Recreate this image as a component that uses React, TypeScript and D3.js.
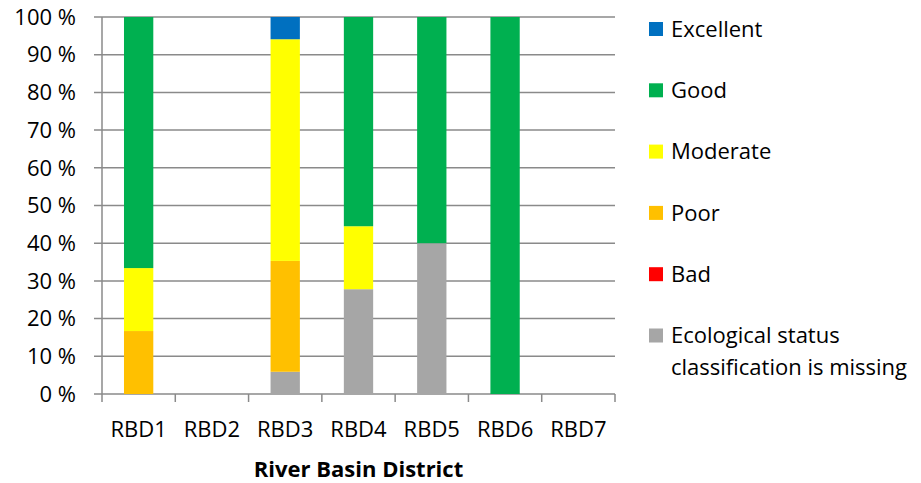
import { useEffect, useRef } from 'react';
import * as d3 from 'd3';

const width = 921;
const height = 483;

// RBD categories and the share (%) of water bodies in each ecological status class
const categories = ['RBD1', 'RBD2', 'RBD3', 'RBD4', 'RBD5', 'RBD6', 'RBD7'];
const missing = [0, 0, 5.9, 27.8, 40, 0, 0];
const bad = [0, 0, 0, 0, 0, 0, 0];
const poor = [16.7, 0, 29.4, 0, 0, 0, 0];
const moderate = [16.7, 0, 58.8, 16.7, 0, 0, 0];
const good = [66.6, 0, 0, 55.5, 60, 100, 0];
const excellent = [0, 0, 5.9, 0, 0, 0, 0];

const yTicks = [0, 10, 20, 30, 40, 50, 60, 70, 80, 90, 100];

// stacking order bottom -> top
const seriesNames = ['Missing', 'Bad', 'Poor', 'Moderate', 'Good', 'Excellent'];
const seriesValues = [missing, bad, poor, moderate, good, excellent];
const colours = ['#A6A6A6', '#FF0000', '#FFC000', '#FFFF00', '#00B050', '#0070C0'];

// legend runs top -> bottom
const legendLabels = [
  ['Excellent'],
  ['Good'],
  ['Moderate'],
  ['Poor'],
  ['Bad'],
  ['Ecological status', 'classification is missing'],
];
const legendColours = ['#0070C0', '#00B050', '#FFFF00', '#FFC000', '#FF0000', '#A6A6A6'];

const FONT = '"Open Sans", Lato, sans-serif';
const FS = 22;

const App = () => {
  const ref = useRef<SVGSVGElement>(null);

  useEffect(() => {
    const svg = d3.select(ref.current);
    svg.selectAll('*').remove();

    const left = 102;
    const right = 615;
    const top = 17;
    const bottom = 394;

    const x = d3.scaleBand().domain(categories).range([left, right]).paddingInner(0.6).paddingOuter(0.3);
    const xCell = d3.scaleBand().domain(categories).range([left, right]).padding(0);
    const y = d3.scaleLinear().domain([0, 100]).range([bottom, top]);

    const rows = categories.map((c, i) => {
      const row: any = { cat: c };
      seriesNames.forEach((s, j) => (row[s] = seriesValues[j][i]));
      return row;
    });
    const stacked = d3.stack().keys(seriesNames)(rows);

    const grid = svg.append('g');
    // horizontal gridlines, with tick stubs to the left of the axis
    grid
      .selectAll('line.grid')
      .data(yTicks)
      .join('line')
      .attr('x1', left - 8)
      .attr('x2', right)
      .attr('y1', (d) => y(d))
      .attr('y2', (d) => y(d))
      .attr('stroke', '#8a8a8a')
      .attr('stroke-width', 1.5);

    // y axis line
    grid
      .append('line')
      .attr('x1', left)
      .attr('x2', left)
      .attr('y1', top)
      .attr('y2', bottom)
      .attr('stroke', '#8a8a8a')
      .attr('stroke-width', 1.5);

    // x ticks at category boundaries
    const xTickPos = categories.map((c) => xCell(c) as number).concat([right]);
    grid
      .selectAll('line.xt')
      .data(xTickPos)
      .join('line')
      .attr('x1', (d) => d)
      .attr('x2', (d) => d)
      .attr('y1', bottom)
      .attr('y2', bottom + 8)
      .attr('stroke', '#8a8a8a')
      .attr('stroke-width', 1.5);

    // bars
    svg
      .append('g')
      .selectAll('g')
      .data(stacked)
      .join('g')
      .attr('fill', (d, i) => colours[i])
      .selectAll('rect')
      .data((d) => d)
      .join('rect')
      .attr('x', (d: any) => x(d.data.cat) as number)
      .attr('width', x.bandwidth())
      .attr('y', (d) => y(d[1]))
      .attr('height', (d) => y(d[0]) - y(d[1]));

    // y tick labels
    svg
      .append('g')
      .selectAll('text')
      .data(yTicks)
      .join('text')
      .attr('x', 76)
      .attr('y', (d) => y(d))
      .attr('dy', '0.35em')
      .attr('text-anchor', 'end')
      .attr('font-family', FONT)
      .attr('font-size', FS)
      .attr('fill', '#000')
      .text((d) => `${d} %`);

    // category labels
    svg
      .append('g')
      .selectAll('text')
      .data(categories)
      .join('text')
      .attr('x', (d) => (x(d) as number) + x.bandwidth() / 2)
      .attr('y', 437)
      .attr('text-anchor', 'middle')
      .attr('font-family', FONT)
      .attr('font-size', FS)
      .attr('fill', '#000')
      .text((d) => d);

    // axis title
    svg
      .append('text')
      .attr('x', (left + right) / 2)
      .attr('y', 477)
      .attr('text-anchor', 'middle')
      .attr('font-family', FONT)
      .attr('font-size', FS)
      .attr('font-weight', 'bold')
      .attr('fill', '#000')
      .text('River Basin District');

    // legend
    const legend = svg.append('g');
    legendLabels.forEach((lines, i) => {
      const cy = 29 + i * 61.3;
      legend
        .append('rect')
        .attr('x', 649)
        .attr('y', cy - 7)
        .attr('width', 14)
        .attr('height', 14)
        .attr('fill', legendColours[i]);
      lines.forEach((t, k) => {
        legend
          .append('text')
          .attr('x', 671)
          .attr('y', cy + k * 32)
          .attr('dy', '0.35em')
          .attr('font-family', FONT)
          .attr('font-size', FS)
          .attr('fill', '#000')
          .text(t);
      });
    });
  }, []);

  return (
    <svg
      ref={ref}
      width={width}
      height={height}
      viewBox={`0 0 ${width} ${height}`}
      style={{ position: 'absolute', left: 0, top: 0, background: '#fff' }}
    />
  );
};

export default App;
